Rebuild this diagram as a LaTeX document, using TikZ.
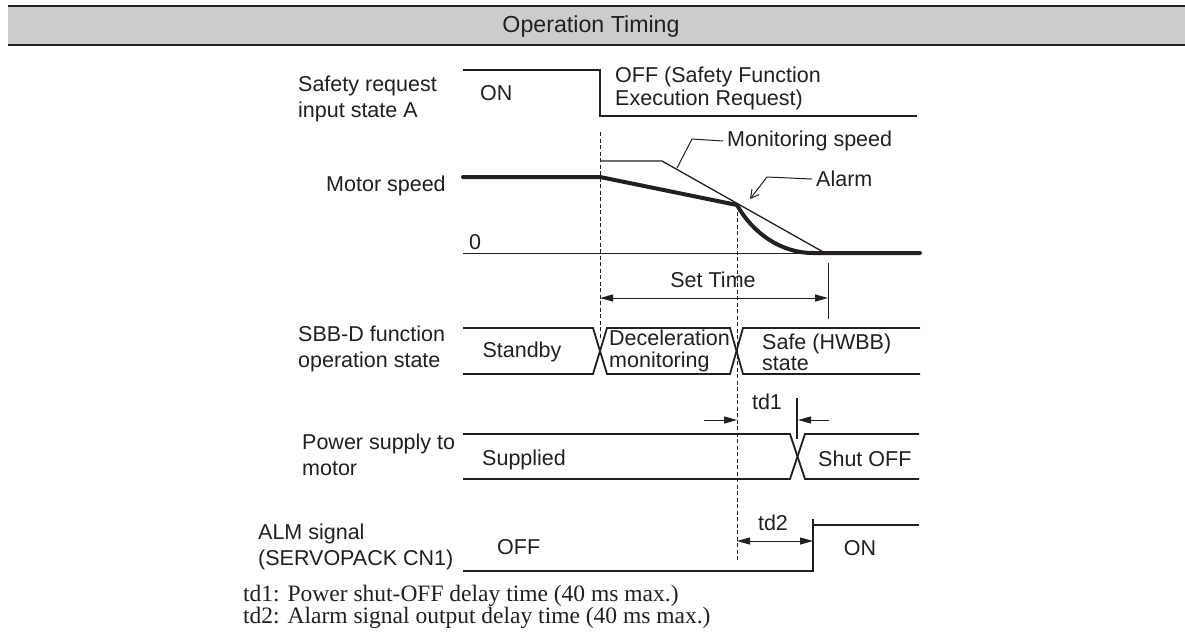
\documentclass[tikz,border=0pt]{standalone}
\usepackage{fontspec}
\setmainfont{Liberation Sans}
\newfontfamily\timesf{Liberation Serif}
\usetikzlibrary{arrows.meta}
\definecolor{ink}{RGB}{35,31,32}
\definecolor{hdrgray}{RGB}{204,204,204}
\begin{document}
\begin{tikzpicture}[x=1pt,y=-1pt, color=ink,
  lbl/.style={inner sep=0pt, anchor=west, align=left, font=\fontsize{21.5}{26}\selectfont},
  sig/.style={line width=1.8pt, line join=miter},
  speed/.style={line width=4pt, line join=round, line cap=round},
  thinline/.style={line width=1pt},
  guide/.style={line width=0.9pt, dash pattern=on 4pt off 2.5pt},
  dim/.style={line width=1pt, -{Triangle[length=13pt,width=7pt]}},
  dimboth/.style={line width=1pt, {Triangle[length=13pt,width=7pt]}-{Triangle[length=13pt,width=7pt]}},
  note/.style={inner sep=0pt, anchor=base west, font=\timesf\fontsize{23.5}{22}\selectfont}
]
\useasboundingbox (0,0) rectangle (1185,641);
\fill[white] (0,0) rectangle (1185,641);
% header
\fill[hdrgray] (8,6) rectangle (1185,45);
\draw[line width=2pt] (8,6) -- (1185,6);
\draw[line width=2.5pt] (8,45) -- (1185,45);
\node[inner sep=0pt, font=\fontsize{23.2}{26}\selectfont] (title) at (591,26) {Operation Timing};

% Safety request input
\node[lbl] (sreq) at (298,99) {Safety request\\input state A};
\draw[sig] (463,70) -- (600,70) -- (600,116) -- (917,116);
\node[lbl] (on1) at (480,93) {ON};
\node[lbl, font=\fontsize{21.5}{23}\selectfont] (offreq) at (615,88) {OFF (Safety Function\\Execution Request)};

% Motor speed
\node[lbl] (mspd) at (326,186) {Motor speed};
\draw[thinline] (463,253) -- (920,253);
\node[lbl] (zero) at (469,242) {0};
\draw[line width=1.3pt] (600,161) -- (662,161) -- (825,253);
\draw[speed] (463,177) -- (600,177) -- (737,205) .. controls (752,232) and (780,253) .. (813,253) -- (920,253);
\node[lbl] (monl) at (727,141) {Monitoring speed};
\draw[thinline] (677,168) -- (692,139) -- ([xshift=-4pt]monl.west);
\node[lbl] (alarm) at (816,179) {Alarm};
\draw[thinline, -{Straight Barb[length=8pt,width=9pt]}] ([xshift=-4pt]alarm.west) -- (767,177) -- (750,199);

% guide lines
\draw[guide] (600,132) -- (600,340);
\draw[guide] (737,205) -- (737,562);

% Set time
\coordinate (stA) at (600,298);
\coordinate (stB) at (828,298);
\draw[thinline] (828,263) -- (828,319);
\draw[dimboth] (stA) -- (stB);
\node[inner sep=0pt, font=\fontsize{21.5}{26}\selectfont] (settime) at (713,280) {Set Time};

% SBB-D state
\node[lbl] (sbbl) at (298,349) {SBB-D function\\operation state};
\draw[sig] (463,328) -- (593,328) -- (607,374) -- (730,374) -- (743,328) -- (920,328);
\draw[sig] (463,374) -- (593,374) -- (607,328) -- (730,328) -- (743,374) -- (920,374);
\node[inner sep=0pt, font=\fontsize{21.5}{26}\selectfont] (stby) at (522,352) {Standby};
\node[lbl, font=\fontsize{21.5}{22}\selectfont] (decel) at (609,351) {Deceleration\\monitoring};
\node[lbl, font=\fontsize{21.5}{21}\selectfont] (safe) at (762,352) {Safe (HWBB)\\state};

% Power supply
\node[lbl] (pwl) at (302,455) {Power supply to\\motor};
\draw[sig] (463,434) -- (790,434) -- (805,479) -- (919,479);
\draw[sig] (463,479) -- (790,479) -- (805,434) -- (919,434);
\node[lbl] (supp) at (482,460) {Supplied};
\node[lbl] (shut) at (818,459) {Shut OFF};
\node[inner sep=0pt, font=\fontsize{21.5}{26}\selectfont] (td1) at (767,402) {td1};
\draw[dim] (704,420) -- (737,420);
\draw[dim] (829,420) -- (798,420);
\draw[line width=1.3pt] (797,398) -- (797,439);

% ALM signal
\node[lbl] (alml) at (258,547) {ALM signal\\(SERVOPACK CN1)};
\draw[sig] (463,571) -- (813,571) -- (813,519);
\draw[sig] (812,525) -- (919,525);
\node[lbl] (off2) at (497,547) {OFF};
\node[inner sep=0pt, font=\fontsize{21.5}{26}\selectfont] (on2) at (860,548) {ON};
\node[inner sep=0pt, font=\fontsize{21.5}{26}\selectfont] (td2) at (773,523) {td2};
\coordinate (tdA) at (737,541);
\coordinate (tdB) at (813,541);
\draw[dimboth] (tdA) -- (tdB);

% notes
\node[note] (n1) at (243,601) {td1: Power shut-OFF delay time (40 ms max.)};
\node[note] (n2) at (243,623.5) {td2: Alarm signal output delay time (40 ms max.)};
\end{tikzpicture}
\end{document}
